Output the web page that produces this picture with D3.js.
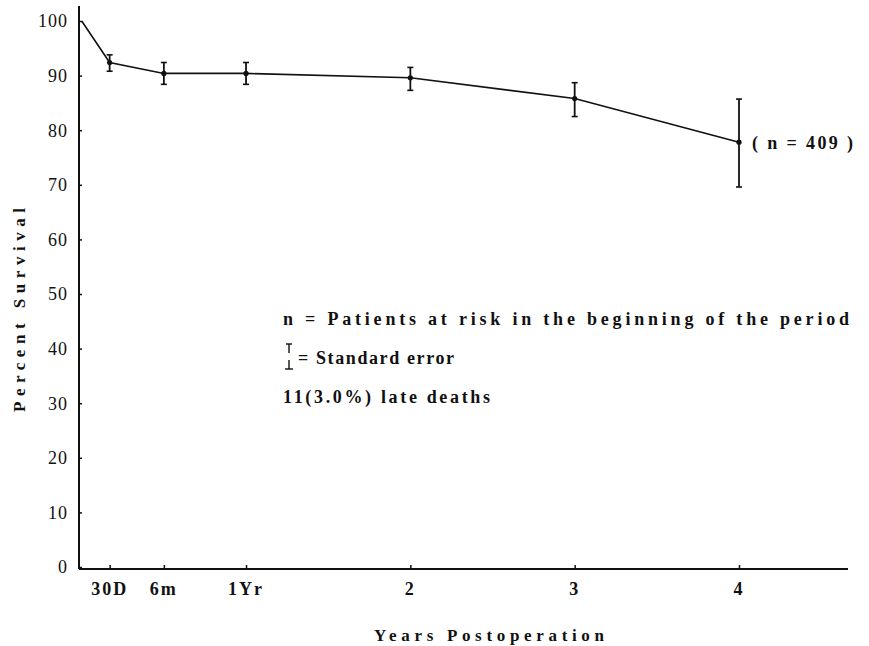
<!DOCTYPE html>
<html><head><meta charset="utf-8">
<script src="https://cdn.jsdelivr.net/npm/d3@7"></script>
<style>body{margin:0;background:#fff}svg{display:block}text{font-family:"Liberation Serif","DejaVu Serif",serif;fill:#111}</style>
</head><body>
<script>
// Data (years postoperation, percent survival, standard error bounds)
const timeYears = [0, 0.17, 0.5, 1, 2, 3, 4];
const survival  = [100, 92.4, 90.4, 90.4, 89.6, 85.8, 77.8];
const errHigh   = [null, 93.8, 92.4, 92.4, 91.5, 88.7, 85.7];
const errLow    = [null, 90.8, 88.4, 88.4, 87.3, 82.5, 69.6];
const xTickVals = [0.17, 0.5, 1, 2, 3, 4];
const xTickLabels = ["30D", "6m", "1Yr", "2", "3", "4"];
const yTickVals = [0, 10, 20, 30, 40, 50, 60, 70, 80, 90, 100];
const nLabel = "( n = 409 )";
const notes = ["n = Patients at risk in the beginning of the period", "= Standard error", "11(3.0%) late deaths"];

const W = 869, H = 646;
const svg = d3.select("body").append("svg").attr("width", W).attr("height", H);
const x = d3.scaleLinear().domain([0, 4]).range([81.7, 739]);
const y = d3.scaleLinear().domain([0, 100]).range([567, 21]);
const ink = "#111";

// Axes lines
svg.append("line").attr("x1", 79).attr("x2", 79).attr("y1", 6).attr("y2", 569).attr("stroke", ink).attr("stroke-width", 2);
svg.append("line").attr("x1", 79).attr("x2", 848).attr("y1", 569).attr("y2", 569).attr("stroke", ink).attr("stroke-width", 2);

// Y ticks
const yAxis = d3.axisRight(y).tickValues(yTickVals).tickSize(3).tickFormat("");
const gy = svg.append("g").attr("transform", "translate(79,0)").call(yAxis);
gy.select(".domain").remove();
gy.selectAll("line").attr("stroke", ink).attr("stroke-width", 1.5);
svg.selectAll(".ylab").data(yTickVals).join("text")
  .attr("x", 68).attr("y", d => y(d)).attr("dy", "0.35em")
  .attr("text-anchor", "end").attr("font-size", 18).attr("letter-spacing", 1)
  .text(d => d);

// X ticks
const xAxis = d3.axisTop(x).tickValues(xTickVals).tickSize(4).tickFormat("");
const gx = svg.append("g").attr("transform", "translate(0,569)").call(xAxis);
gx.select(".domain").remove();
gx.selectAll("line").attr("stroke", ink).attr("stroke-width", 1.5);
svg.selectAll(".xlab").data(xTickVals).join("text")
  .attr("x", d => x(d)).attr("y", 589).attr("dy", "0.35em")
  .attr("text-anchor", "middle").attr("font-size", 18).attr("font-weight", "bold").attr("letter-spacing", 2)
  .text((d, i) => xTickLabels[i]);

// Line
const pts = timeYears.map((t, i) => ({t, v: survival[i], hi: errHigh[i], lo: errLow[i]}));
svg.append("path").datum(pts)
  .attr("d", d3.line().x(d => x(d.t)).y(d => y(d.v)))
  .attr("fill", "none").attr("stroke", ink).attr("stroke-width", 1.6);

// Error bars
const eb = pts.filter(d => d.hi != null);
const g = svg.append("g");
g.selectAll(".eb").data(eb).join("line")
  .attr("x1", d => x(d.t)).attr("x2", d => x(d.t))
  .attr("y1", d => y(d.hi)).attr("y2", d => y(d.lo))
  .attr("stroke", ink).attr("stroke-width", 1.8);
g.selectAll(".cap1").data(eb).join("line")
  .attr("x1", d => x(d.t) - 3).attr("x2", d => x(d.t) + 3)
  .attr("y1", d => y(d.hi)).attr("y2", d => y(d.hi))
  .attr("stroke", ink).attr("stroke-width", 1.6);
g.selectAll(".cap2").data(eb).join("line")
  .attr("x1", d => x(d.t) - 3).attr("x2", d => x(d.t) + 3)
  .attr("y1", d => y(d.lo)).attr("y2", d => y(d.lo))
  .attr("stroke", ink).attr("stroke-width", 1.6);
g.selectAll(".pt").data(eb).join("circle")
  .attr("cx", d => x(d.t)).attr("cy", d => y(d.v)).attr("r", 2.6).attr("fill", ink);

// n label
const last = pts[pts.length - 1];
svg.append("text").attr("x", x(last.t) + 13).attr("y", y(last.v)).attr("dy", "0.35em")
  .attr("font-size", 18).attr("font-weight", "bold")
  .attr("textLength", 101).attr("lengthAdjust", "spacing")
  .text(nLabel);

// Notes
svg.append("text").attr("x", 283).attr("y", 319).attr("dy", "0.35em")
  .attr("font-size", 18).attr("font-weight", "bold")
  .attr("textLength", 566).attr("lengthAdjust", "spacing").text(notes[0]);
// standard error glyph
const gs = svg.append("g").attr("stroke", ink).attr("stroke-width", 1.4);
gs.append("line").attr("x1", 289).attr("x2", 289).attr("y1", 344).attr("y2", 353);
gs.append("line").attr("x1", 286).attr("x2", 292).attr("y1", 344).attr("y2", 344);
gs.append("line").attr("x1", 289).attr("x2", 289).attr("y1", 360).attr("y2", 369);
gs.append("line").attr("x1", 285).attr("x2", 293).attr("y1", 369).attr("y2", 369);
svg.append("text").attr("x", 298).attr("y", 358).attr("dy", "0.35em")
  .attr("font-size", 18).attr("font-weight", "bold")
  .attr("textLength", 156).attr("lengthAdjust", "spacing").text(notes[1]);
svg.append("text").attr("x", 283).attr("y", 397).attr("dy", "0.35em")
  .attr("font-size", 18).attr("font-weight", "bold")
  .attr("textLength", 207).attr("lengthAdjust", "spacing").text(notes[2]);

// Axis titles
svg.append("text").attr("transform", "translate(19,310) rotate(-90)")
  .attr("text-anchor", "middle").attr("dy", "0.35em")
  .attr("font-size", 17).attr("font-weight", "bold")
  .attr("textLength", 204).attr("lengthAdjust", "spacing").text("Percent  Survival");
svg.append("text").attr("x", 374).attr("y", 635).attr("dy", "0.35em")
  .attr("font-size", 17).attr("font-weight", "bold")
  .attr("textLength", 230).attr("lengthAdjust", "spacing").text("Years  Postoperation");
</script>
</body></html>
